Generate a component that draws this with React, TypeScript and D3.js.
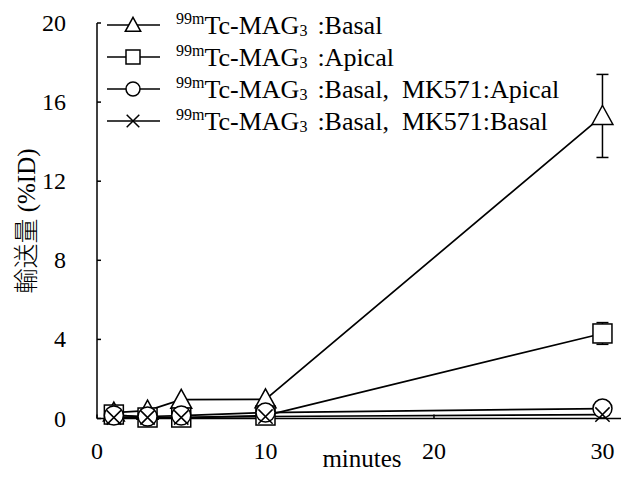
import React from "react";
import * as d3 from "d3";

const times = [1, 3, 5, 10, 30];
const basal = [0.3, 0.4, 0.95, 0.97, 15.3];
const basalErr = [0.05, 0.05, 0.1, 0.1, 2.1];
const apical = [0.2, 0.05, 0.05, 0.15, 4.3];
const apicalErr = [0.05, 0.02, 0.02, 0.05, 0.55];
const mkApical = [0.15, 0.1, 0.15, 0.3, 0.5];
const mkBasal = [0.05, 0.05, 0.05, 0.1, 0.2];
const xTicks = [0, 10, 20, 30];
const yTicks = [0, 4, 8, 12, 16, 20];
const legendSuffix = [":Basal", ":Apical", ":Basal,  MK571:Apical", ":Basal,  MK571:Basal"];

const W = 626, H = 481;
const x = d3.scaleLinear().domain([0, 31.1]).range([97, 621]);
const y = d3.scaleLinear().domain([0, 20]).range([418.5, 23]);

type Shape = "tri" | "sq" | "circ" | "x";
const series: { vals: number[]; err: number[] | null; shape: Shape }[] = [
  { vals: basal, err: basalErr, shape: "tri" },
  { vals: apical, err: apicalErr, shape: "sq" },
  { vals: mkApical, err: null, shape: "circ" },
  { vals: mkBasal, err: null, shape: "x" },
];

const SERIF = "Liberation Serif";
const CJK = "Noto Sans CJK JP";

function Marker({ shape, cx, cy, s }: { shape: Shape; cx: number; cy: number; s: number }) {
  const st = { fill: "white", stroke: "black", strokeWidth: 1.5 };
  if (shape === "tri") {
    const h = s, hw = s * 0.55;
    const p = `M${cx},${cy - h * 0.55}L${cx + hw},${cy + h * 0.45}L${cx - hw},${cy + h * 0.45}Z`;
    return <path d={p} {...st} />;
  }
  if (shape === "sq") {
    return <rect x={cx - s / 2} y={cy - s / 2} width={s} height={s} {...st} />;
  }
  if (shape === "circ") {
    return <circle cx={cx} cy={cy} r={s / 2} {...st} />;
  }
  const a = s * 0.42;
  return (
    <path
      d={`M${cx - a},${cy - a}L${cx + a},${cy + a}M${cx - a},${cy + a}L${cx + a},${cy - a}`}
      fill="none"
      stroke="black"
      strokeWidth={1.5}
    />
  );
}

export default function App() {
  const line = d3
    .line<number>()
    .x((_, i) => x(times[i]))
    .y((v) => y(v));
  const txt = { fontFamily: SERIF, fill: "black" } as React.CSSProperties;
  return (
    <svg width={W} height={H} style={{ position: "absolute", left: 0, top: 0, background: "white" }}>
      {/* axes */}
      <line x1={x(0)} x2={x(0)} y1={y(20)} y2={y(0)} stroke="black" strokeWidth={1.5} />
      <line x1={x(0)} x2={621} y1={y(0)} y2={y(0)} stroke="black" strokeWidth={1.5} />
      {yTicks.map((t) => (
        <g key={"y" + t}>
          <line x1={x(0)} x2={x(0) + 4} y1={y(t)} y2={y(t)} stroke="black" strokeWidth={1.5} />
          <text x={66} y={y(t) + 8} textAnchor="end" fontSize={24} style={txt}>
            {t}
          </text>
        </g>
      ))}
      {xTicks.map((t) => (
        <g key={"x" + t}>
          <line x1={x(t)} x2={x(t)} y1={y(0)} y2={y(0) - 4} stroke="black" strokeWidth={1.5} />
          <text x={x(t)} y={459} textAnchor="middle" fontSize={24} style={txt}>
            {t}
          </text>
        </g>
      ))}
      <text x={362} y={467} textAnchor="middle" fontSize={25} style={txt}>
        minutes
      </text>
      <text transform={`translate(35,221) rotate(-90)`} textAnchor="middle" fontSize={25} style={txt}>
        <tspan style={{ fontFamily: CJK, fill: "black", fontWeight: 300 }}>輸送量</tspan>
        <tspan xmlSpace="preserve"> (%ID)</tspan>
      </text>

      {/* lines */}
      {series.map((s, i) => (
        <path key={"l" + i} d={line(s.vals) || ""} fill="none" stroke="black" strokeWidth={1.7} />
      ))}
      {/* error bars */}
      {series.map((s, i) =>
        s.err
          ? s.vals.map((v, j) => {
              const e = s.err![j];
              if (e < 0.3) return null;
              const cx = x(times[j]);
              return (
                <g key={"e" + i + j} stroke="black" strokeWidth={1.5}>
                  <line x1={cx} x2={cx} y1={y(v - e)} y2={y(v + e)} />
                  <line x1={cx - 6} x2={cx + 6} y1={y(v + e)} y2={y(v + e)} />
                  <line x1={cx - 6} x2={cx + 6} y1={y(v - e)} y2={y(v - e)} />
                </g>
              );
            })
          : null
      )}
      {/* markers */}
      {series.map((s, i) =>
        s.vals.map((v, j) => (
          <Marker key={"m" + i + j} shape={s.shape} cx={x(times[j])} cy={y(v)} s={s.shape === "x" ? 17 : 19} />
        ))
      )}

      {/* legend */}
      {series.map((s, i) => {
        const cy = 25 + i * 32;
        return (
          <g key={"lg" + i}>
            <line x1={107} x2={160} y1={cy} y2={cy} stroke="black" strokeWidth={1.5} />
            <Marker shape={s.shape} cx={133} cy={cy} s={s.shape === "x" ? 15 : 14} />
            <text x={176} y={cy + 9} fontSize={26} xmlSpace="preserve" style={txt}>
              <tspan fontSize={16} dy={-10}>99m</tspan>
              <tspan dy={10}>Tc-MAG</tspan>
              <tspan fontSize={16} dy={2}>3</tspan>
              <tspan dy={-2} dx={10}>{legendSuffix[i]}</tspan>
            </text>
          </g>
        );
      })}
    </svg>
  );
}
